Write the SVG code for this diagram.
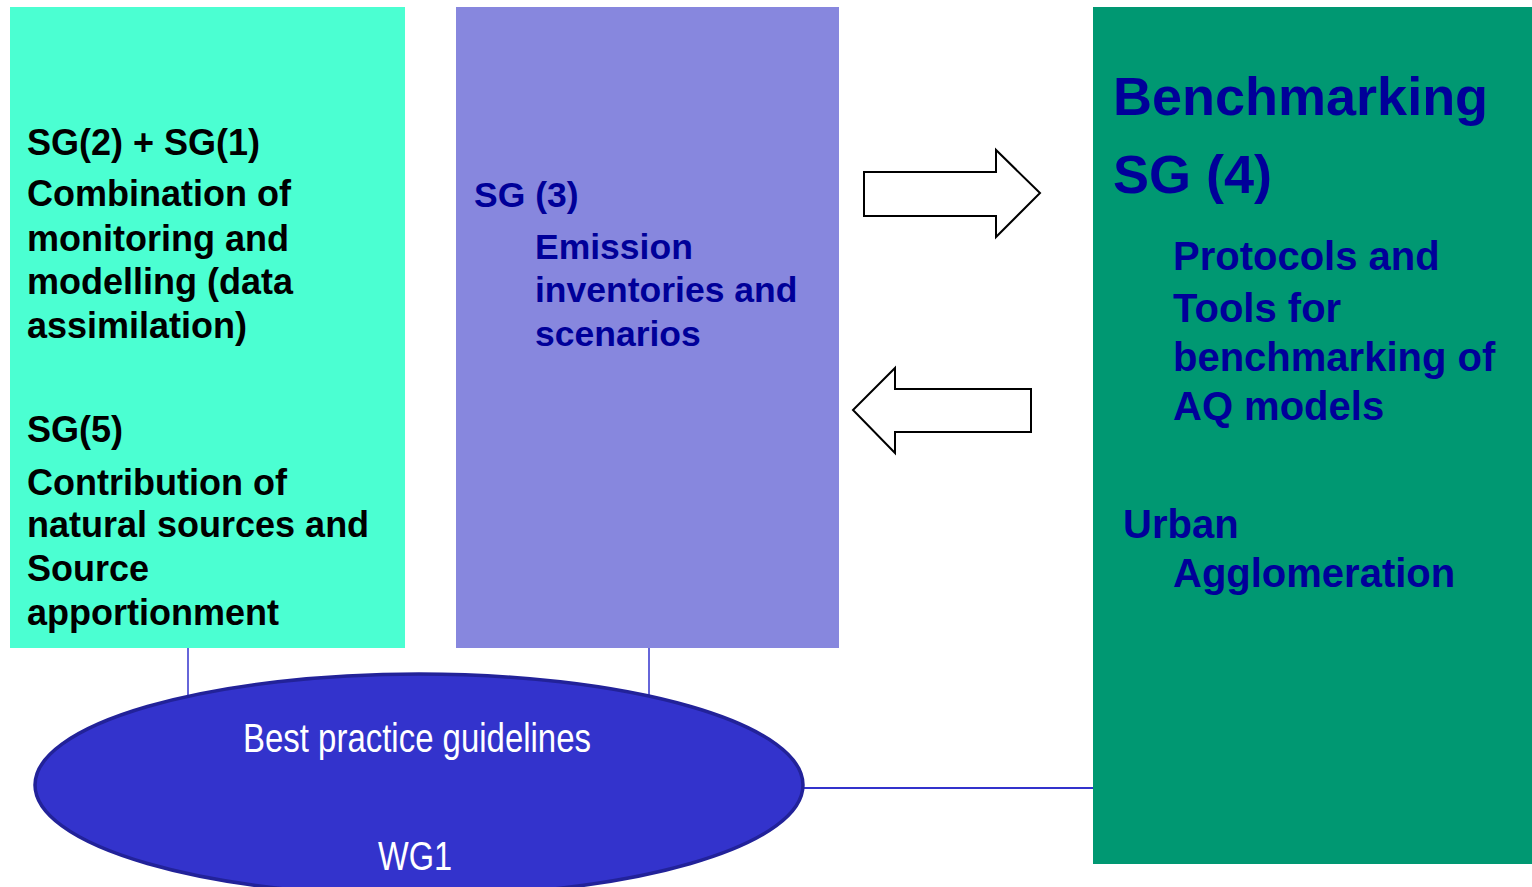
<svg xmlns="http://www.w3.org/2000/svg" width="1532" height="887" viewBox="0 0 1532 887">
<style>
.t{font-family:"Liberation Sans",Arial,sans-serif;font-weight:bold}
.blk{fill:#000000;font-size:36px}
.nv{fill:#000099}
.m{font-size:35.5px}
.r{font-size:40px}
.big{font-size:54px}
.w{font-family:"Liberation Sans Narrow","Liberation Sans",Arial,sans-serif;fill:#ffffff;font-size:40px}
.conn{stroke:#3333CC;fill:none}
.arr{fill:#ffffff;stroke:#000000;stroke-width:2}
</style>
<rect width="1532" height="887" fill="#ffffff"/>
<g id="connectors">
<line class="conn" x1="188" y1="648" x2="188" y2="696" stroke-width="1.5"/>
<line class="conn" x1="649" y1="648" x2="649" y2="697" stroke-width="1.5"/>
<line class="conn" x1="803" y1="788" x2="1094" y2="788" stroke-width="2"/>
<polygon class="arr" points="864,172 996,172 996,150 1040,193 996,237 996,216 864,216"/>
<polygon class="arr" points="1031,389 895,389 895,368 853,410 895,453 895,432 1031,432"/>
</g>
<g id="sg21">
<rect x="10" y="7" width="395" height="641" fill="#4BFFD2"/>
<text class="t blk" x="27" y="155">SG(2) + SG(1)</text>
<text class="t blk" x="27" y="206">Combination of</text>
<text class="t blk" x="27" y="251">monitoring and</text>
<text class="t blk" x="27" y="294">modelling (data</text>
<text class="t blk" x="27" y="338">assimilation)</text>
<text class="t blk" x="27" y="442">SG(5)</text>
<text class="t blk" x="27" y="495">Contribution of</text>
<text class="t blk" x="27" y="537">natural sources and</text>
<text class="t blk" x="27" y="581">Source</text>
<text class="t blk" x="27" y="625">apportionment</text>
</g>
<g id="sg3">
<rect x="456" y="7" width="383" height="641" fill="#8787DE"/>
<text class="t nv m" x="474" y="207">SG (3)</text>
<text class="t nv m" x="535" y="259">Emission</text>
<text class="t nv m" x="535" y="302">inventories and</text>
<text class="t nv m" x="535" y="346">scenarios</text>
</g>
<g id="sg4">
<rect x="1093" y="7" width="439" height="857" fill="#009872"/>
<text class="t nv big" x="1113" y="115">Benchmarking</text>
<text class="t nv big" x="1113" y="193">SG (4)</text>
<text class="t nv r" x="1173" y="270">Protocols and</text>
<text class="t nv r" x="1173" y="322">Tools for</text>
<text class="t nv r" x="1173" y="371">benchmarking of</text>
<text class="t nv r" x="1173" y="420">AQ models</text>
<text class="t nv r" x="1123" y="538">Urban</text>
<text class="t nv r" x="1173" y="587">Agglomeration</text>
</g>
<g id="wg1">
<ellipse cx="419" cy="785" rx="384" ry="111" fill="#3333CC" stroke="#222299" stroke-width="3.5"/>
<text class="w" x="417" y="752" text-anchor="middle" textLength="348" lengthAdjust="spacingAndGlyphs">Best practice guidelines</text>
<text class="w" x="415" y="870" text-anchor="middle" textLength="74" lengthAdjust="spacingAndGlyphs">WG1</text>
</g>
</svg>
